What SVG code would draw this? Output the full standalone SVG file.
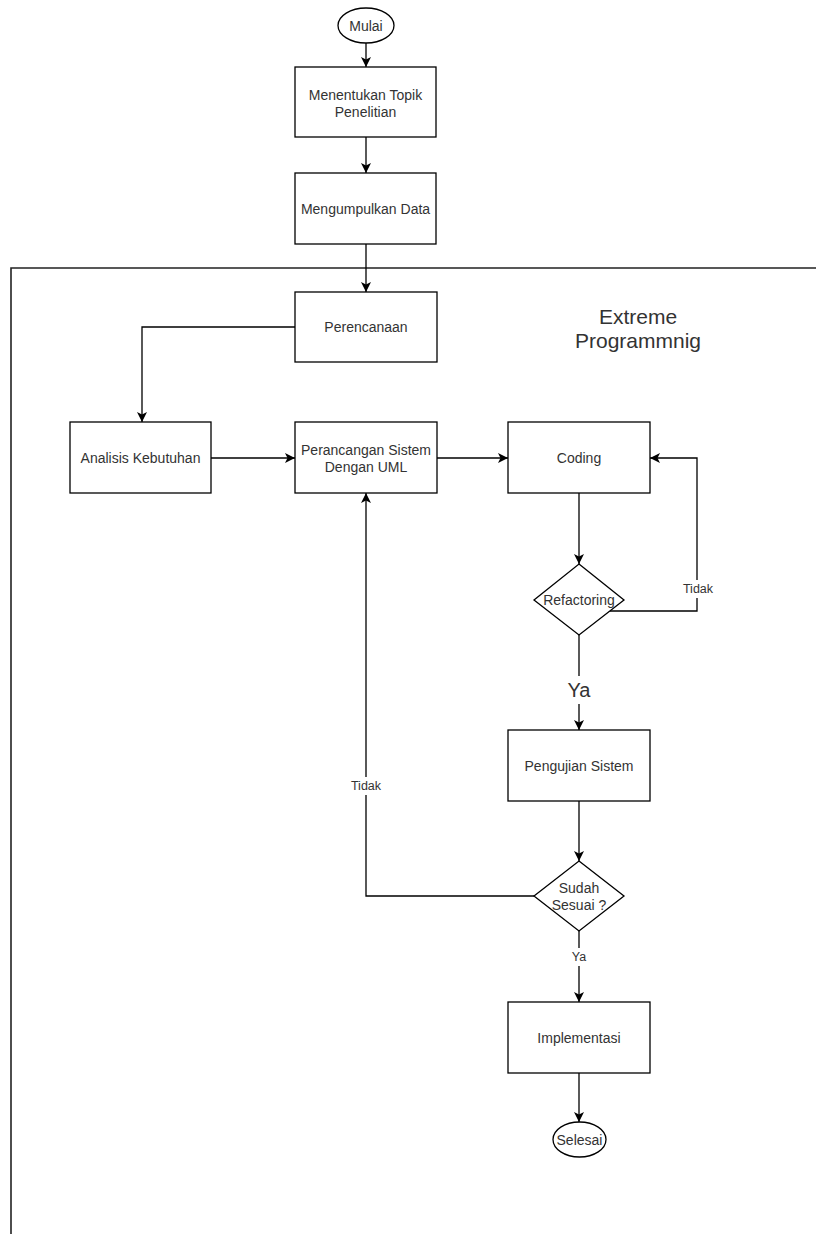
<svg xmlns="http://www.w3.org/2000/svg" width="816" height="1234" viewBox="0 0 816 1234">
<defs>
<marker id="arr" viewBox="0 0 10 10" refX="10" refY="5" markerWidth="10" markerHeight="10" markerUnits="userSpaceOnUse" orient="auto">
<path d="M0,0 L10,5 L0,10 L2.5,5 Z" fill="#000"/>
</marker>
<style>
.n{fill:#fff;stroke:#000;stroke-width:1.3}
.t{font-family:"Liberation Sans",Arial,sans-serif;font-size:14px;fill:#333;text-anchor:middle;dominant-baseline:central}
.s{font-size:12.5px}
.c{fill:none;stroke:#000;stroke-width:1.3}
.lb{fill:#fff}
.cont{fill:none;stroke:#222;stroke-width:1.6}
</style>
</defs>
<rect width="816" height="1234" fill="#fff"/>
<g id="container">
<path class="cont" d="M11,1234 V268 H816"/>
<text class="t" x="638" y="316" style="font-size:21px">Extreme</text>
<text class="t" x="638" y="340" style="font-size:21px">Programmnig</text>
</g>
<g id="connectors">
<path class="c" d="M366,43 V67" marker-end="url(#arr)"/>
<path class="c" d="M366,137 V173" marker-end="url(#arr)"/>
<path class="c" d="M366,244 V292" marker-end="url(#arr)"/>
<path class="c" d="M295,327 H142 V422" marker-end="url(#arr)"/>
<path class="c" d="M211,458 H295" marker-end="url(#arr)"/>
<path class="c" d="M437,458 H508" marker-end="url(#arr)"/>
<path class="c" d="M579,493 V564" marker-end="url(#arr)"/>
<path class="c" d="M608,611 H697 V458 H650" marker-end="url(#arr)"/>
<path class="c" d="M579,635 V730" marker-end="url(#arr)"/>
<path class="c" d="M579,801 V861" marker-end="url(#arr)"/>
<path class="c" d="M534,896 H366 V493" marker-end="url(#arr)"/>
<path class="c" d="M579,931 V1002" marker-end="url(#arr)"/>
<path class="c" d="M579,1073 V1122" marker-end="url(#arr)"/>
<rect class="lb" x="679" y="580" width="36" height="18"/>
<text class="t s" x="698" y="589">Tidak</text>
<rect class="lb" x="565" y="676" width="28" height="28"/>
<text class="t" x="579" y="690" style="font-size:20px">Ya</text>
<rect class="lb" x="348" y="777" width="36" height="18"/>
<text class="t s" x="366" y="786">Tidak</text>
<rect class="lb" x="568" y="948" width="22" height="18"/>
<text class="t s" x="579" y="957">Ya</text>
</g>
<g id="mulai">
<ellipse class="n" cx="366" cy="25.5" rx="28" ry="17.5"/>
<text class="t" x="366" y="25.5">Mulai</text>
</g>
<g id="topik">
<rect class="n" x="295" y="67" width="141" height="70"/>
<text class="t" x="365.5" y="94.5">Menentukan Topik</text>
<text class="t" x="365.5" y="111.5">Penelitian</text>
</g>
<g id="data">
<rect class="n" x="295" y="173" width="141" height="71"/>
<text class="t" x="365.5" y="208.5">Mengumpulkan Data</text>
</g>
<g id="perencanaan">
<rect class="n" x="295" y="292" width="142" height="70"/>
<text class="t" x="366" y="327">Perencanaan</text>
</g>
<g id="analisis">
<rect class="n" x="70" y="422" width="141" height="71"/>
<text class="t" x="140.5" y="457.5">Analisis Kebutuhan</text>
</g>
<g id="perancangan">
<rect class="n" x="295" y="422" width="142" height="71"/>
<text class="t" x="366" y="450">Perancangan Sistem</text>
<text class="t" x="366" y="467">Dengan UML</text>
</g>
<g id="coding">
<rect class="n" x="508" y="422" width="142" height="71"/>
<text class="t" x="579" y="457.5">Coding</text>
</g>
<g id="refactoring">
<polygon class="n" points="579,564 624,600 579,635 534,600"/>
<text class="t" x="579" y="600">Refactoring</text>
</g>
<g id="pengujian">
<rect class="n" x="508" y="730" width="142" height="71"/>
<text class="t" x="579" y="765.5">Pengujian Sistem</text>
</g>
<g id="sesuai">
<polygon class="n" points="579,861 624,896 579,931 534,896"/>
<text class="t" x="579" y="888">Sudah</text>
<text class="t" x="579" y="905">Sesuai ?</text>
</g>
<g id="implementasi">
<rect class="n" x="508" y="1002" width="142" height="71"/>
<text class="t" x="579" y="1037.5">Implementasi</text>
</g>
<g id="selesai">
<ellipse class="n" cx="579.5" cy="1139.5" rx="26.5" ry="17.5"/>
<text class="t" x="579.5" y="1139.5">Selesai</text>
</g>
</svg>
